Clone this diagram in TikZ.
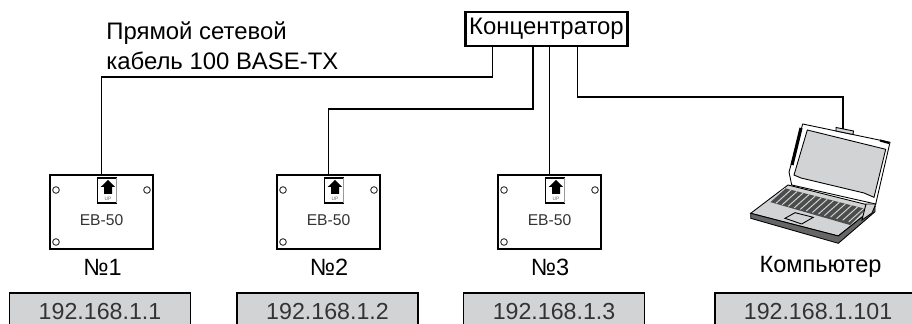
\documentclass[tikz,border=0pt]{standalone}
\usepackage{fontspec}
\setmainfont{Liberation Sans}
\usepackage{tikz}
\usetikzlibrary{positioning, calc}
\definecolor{panelgrey}{HTML}{D1D3D4}
\definecolor{textgrey}{HTML}{333333}
\tikzset{
  cable/.style={line width=0.85pt},
  hubbox/.style={rectangle, draw=black, line width=1.3pt, minimum width=3.24cm, minimum height=0.68cm, inner sep=0pt, font=\fontsize{13.6}{16}\selectfont},
  ipbox/.style={rectangle, draw=black, line width=0.85pt, fill=panelgrey, minimum width=3.62cm, minimum height=0.76cm, inner sep=0pt, text=textgrey, font=\fontsize{13.2}{16}\selectfont},
  caption/.style={inner sep=0pt, font=\fontsize{13.4}{16}\selectfont},
  devbox/.style={rectangle, draw=black, line width=0.8pt, minimum width=2.06cm, minimum height=1.48cm},
  port/.style={draw=black!85, line width=0.5pt, fill=white},
  lapline/.style={draw=black, line width=0.5pt},
  ebunit/.pic={
    \node (-box) [devbox] at (0,0) {};
    \node (-name) [inner sep=0pt, text=textgrey, font=\fontsize{8.9}{10}\selectfont] at (0,8) {EB-50};
    \path [port] (-45.5,-22) circle (3.3);
    \path [port] (45.5,-22) circle (3.3);
    \path [port] (-45.5,30) circle (3.3);
    % Etiqueta
    \draw [black, line width=0.7pt] (15,-34) -- (-4,-34) -- (-4,-9) -- (15,-9);
    \draw [black!40, line width=0.5pt] (15,-34) -- (15,-9);
    \fill [black] (6.5,-32) -- (13.5,-25) -- (10.5,-25) -- (10.5,-18) -- (2.5,-18) -- (2.5,-25) -- (-0.8,-25) -- cycle;
    \node (-up) [inner sep=0pt, text=black!60, font=\fontsize{2.8}{3}\selectfont] at (6.5,-13) {UP};
  }
}

\begin{document}
\begin{tikzpicture}[x=0.02cm, y=-0.02cm]
    \useasboundingbox (0,0) rectangle (912,324);
    \clip (0,0) rectangle (912,324);

    \node (hub) [hubbox] at (546.5,29) {Концентратор};

    \node (cablelabel) [inner sep=0pt, anchor=west, align=left, font=\fontsize{13.6}{17}\selectfont] at (106,45.5)
    {Прямой сетевой\\ кабель 100 BASE-TX};

    \pic (devone) at (101.5,212) {ebunit};
    \pic (devtwo) at (328.5,212) {ebunit};
    \pic (devthree) at (549.5,212) {ebunit};

    \node (numone) [caption] at (102.5,267) {№1};
    \node (numtwo) [caption] at (329,267) {№2};
    \node (numthree) [caption] at (550,267) {№3};
    \node (pclabel) [caption] at (820.5,267) {Компьютер};

    \node (ipone) [ipbox] at (100,312) {192.168.1.1};
    \node (iptwo) [ipbox] at (327.5,312) {192.168.1.2};
    \node (ipthree) [ipbox] at (554,312) {192.168.1.3};
    \node (ipfour) [ipbox, minimum width=4.12cm] at (818,312) {192.168.1.101};

    % Ordenador
    \draw [lapline, fill=white] (802.7,124) -- (890,142.3) -- (875.7,204) -- (791.7,185) -- (789,172) -- cycle;
    \draw [black, line width=1.8pt] (801,128) -- (792,165);
    \draw [black, line width=1.2pt] (880,140.5) -- (889,143);
    \draw [lapline, fill=panelgrey] (807.3,130) -- (885.7,149.3) -- (874,197.3) -- (864,193) -- (801,178) -- (794,175) -- cycle;
    \draw [lapline, fill=panelgrey] (788,185) -- (875,206.7) -- (838.3,236) -- (750.7,213.3) -- cycle;
    \draw [lapline, fill=black!60] (750.7,213.3) -- (838.3,236) -- (875,206.7) -- (875,211.7) -- (838.3,243.3) -- (750.7,218.3) -- cycle;
    \fill [black!70] (785,188.3) -- (866,209) -- (850,225) -- (770,202) -- cycle;
    \draw [panelgrey, line width=0.55pt, cm={6.05,-1.55,2.5,2.23,(785,188.3)}] (0,0) grid[step=1] (13.4,6);
    \draw [lapline, fill=panelgrey] (795,212.7) -- (813.3,217.3) -- (801.7,224) -- (785,218.3) -- cycle;
    \draw [lapline, fill=panelgrey] (866,204) -- (875.7,204) -- (872,213) -- (862,220) -- cycle;
    \draw [lapline, fill=panelgrey] (836,127.5) -- (853.5,131) -- (853,134.5) -- (836,131) -- cycle;
    \coordinate (lanport) at (843,129);

    % Cables
    \draw [cable] ($(hub.south west)!0.172!(hub.south east)$) -- ++(0,30) -| (devone-box.north);
    \draw [cable] ($(hub.south west)!0.417!(hub.south east)$) -- ++(0,62) -| (devtwo-box.north);
    \draw [cable] (hub.south -| devthree-box.north) -- (devthree-box.north);
    \draw [cable] ($(hub.south west)!0.69!(hub.south east)$) -- ++(0,50) -| (lanport);

\end{tikzpicture}
\end{document}
